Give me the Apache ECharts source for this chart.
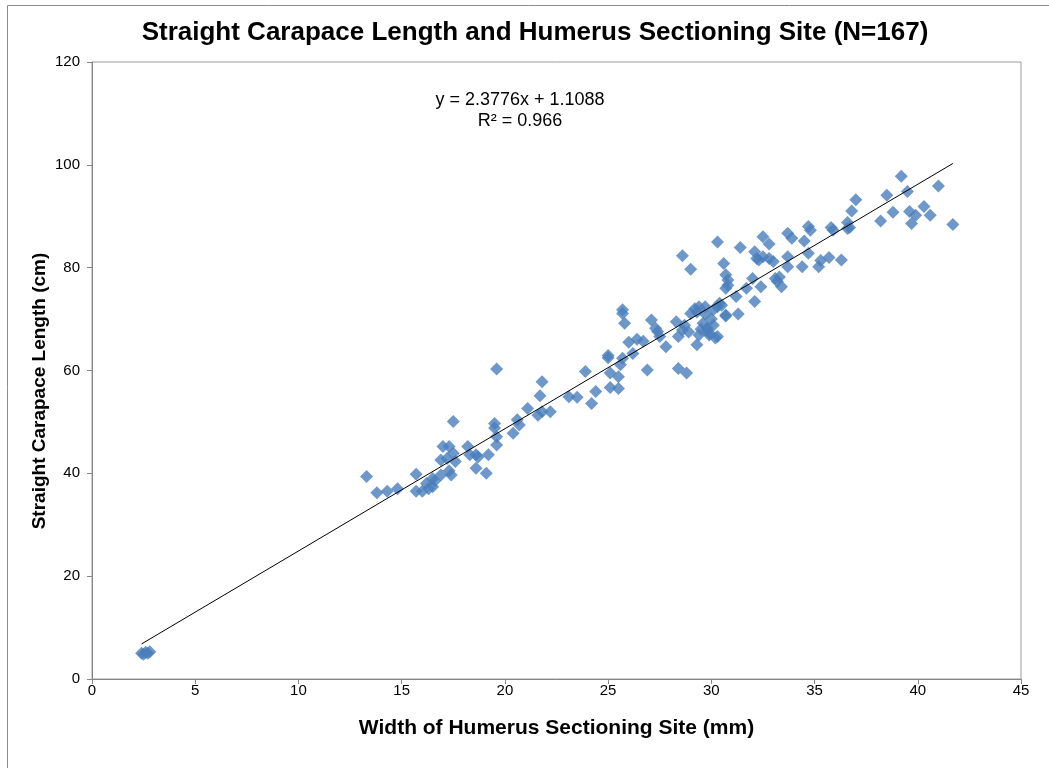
<!DOCTYPE html>
<html>
<head>
<meta charset="utf-8">
<script src="https://cdn.jsdelivr.net/npm/echarts@6/dist/echarts.min.js"></script>
<style>
html,body{margin:0;padding:0;background:#fff;}
#chart{width:1049px;height:768px;}
</style>
</head>
<body>
<div id="chart"></div>
<script>
const titleText = "Straight Carapace Length and Humerus Sectioning Site (N=167)";
const xAxisName = "Width of Humerus Sectioning Site (mm)";
const yAxisName = "Straight Carapace Length (cm)";
const equationLines = ["y = 2.3776x + 1.1088", "R\u00B2 = 0.966"];

// hatchling cluster
const pointsSmall = [[2.4,5.0],[2.5,4.8],[2.6,5.2],[2.7,5.0],[2.8,5.3]];
// 13-25 mm
const pointsLow = [
 [13.3,39.4],[13.8,36.2],[14.3,36.5],[14.8,37.0],[15.7,39.8],[15.7,36.5],[16.0,36.5],[16.2,38.0],
 [16.3,37.0],[16.5,37.4],[16.5,39.0],[16.9,39.7],[16.9,42.6],[17.0,45.2],[17.2,42.9],[17.3,45.2],
 [17.4,39.7],[17.5,50.1],[17.5,43.9],[17.6,42.3],[17.3,40.5],[16.6,38.5],[18.2,45.2],[18.3,43.6],
 [18.6,43.6],[18.7,43.2],[18.6,41.0],[19.1,40.0],[19.2,43.6],[19.6,60.3],[19.5,49.7],[19.5,48.8],
 [19.6,45.5],[19.6,47.1],[20.4,47.8],[20.6,50.4],[20.7,49.4],[21.1,52.6],[21.6,51.3],[21.7,55.1],
 [21.8,57.8],[21.8,52.0],[22.2,52.0],[23.1,54.9],[23.5,54.8],[23.9,59.8],[24.2,53.6],[24.4,55.9]
];
// 25-31 mm
const pointsMid = [
 [25.0,62.9],[25.0,62.5],[25.1,59.5],[25.1,56.7],[25.5,56.5],[25.5,58.8],[25.6,61.1],[25.7,62.4],
 [25.7,71.8],[25.7,71.1],[25.8,69.2],[26.0,65.5],[26.2,63.3],[26.4,66.1],[26.7,65.7],[26.9,60.1],
 [27.1,69.8],[27.3,68.2],[27.4,67.6],[27.5,66.6],[27.8,64.6],[28.3,69.5],[28.4,66.6],[28.4,60.4],
 [28.8,59.5],[28.6,82.3],[29.0,79.7],[28.6,67.9],[28.9,67.5],[29.0,71.1],[29.3,71.4],[29.4,72.4],
 [29.4,66.9],[29.3,65.0],[29.6,69.2],[29.8,68.2],[30.0,70.0],[30.1,71.8],[30.3,66.6],[30.3,72.4],
 [30.4,73.1],[30.7,70.6],[30.3,85.0],[30.6,80.8],[30.7,78.6],[30.8,77.6],[30.8,76.6],[30.7,76.0],
 [29.7,71.0],[29.9,67.3],[30.1,68.8],[29.5,68.0],[28.7,68.8],[29.2,72.0],[29.7,72.4],[30.5,72.7],
 [31.3,71.0],[29.8,67.9],[29.9,66.9],[30.2,66.3],[30.7,70.8]
];
// 31-42 mm
const pointsHigh = [
 [31.4,83.9],[31.2,74.4],[31.7,76.0],[32.0,77.9],[32.1,73.4],[32.1,83.1],[32.2,81.8],[32.3,81.5],
 [32.5,86.0],[32.8,84.6],[32.4,76.3],[32.5,82.1],[32.8,81.8],[33.0,81.2],[33.1,77.9],[33.2,77.3],
 [33.4,76.3],[33.3,78.2],[33.7,86.7],[33.9,85.7],[33.7,82.1],[33.7,80.2],[34.4,80.2],[34.5,85.2],
 [34.7,88.0],[34.8,87.3],[34.7,82.8],[35.2,80.2],[35.3,81.4],[35.7,82.0],[35.8,87.8],[35.9,87.3],
 [36.3,81.5],[36.6,88.8],[36.7,87.8],[36.8,91.0],[37.0,93.2],[38.2,89.1],[38.5,94.1],[36.6,87.6],
 [39.2,97.8],[39.5,94.8],[41.0,95.9],[38.8,90.8],[39.6,90.9],[39.9,90.2],[39.7,88.6],[40.3,91.9],
 [40.6,90.2],[41.7,88.4]
];
// trendline endpoints (from the printed equation, at x = 2.4 and 41.7)
const trendLine = [[2.4,6.82],[41.7,100.26]];

const xTicks = {min:0, max:45, interval:5};
const yTicks = {min:0, max:120, interval:20};

const allPoints = pointsSmall.concat(pointsLow, pointsMid, pointsHigh);

const chart = echarts.init(document.getElementById('chart'), null, {renderer:'canvas'});
const axisGray = '#868686';
const fontFam = '"Liberation Sans", Arial, sans-serif';
chart.setOption({
  backgroundColor:'#ffffff',
  animation:false,
  grid:{left:92, right:28, top:62, bottom:89, show:true, borderColor:'#9a9a9a', borderWidth:1, backgroundColor:'#fff'},
  xAxis:{
    type:'value', min:xTicks.min, max:xTicks.max, interval:xTicks.interval,
    name:xAxisName, nameLocation:'middle', nameGap:39,
    nameTextStyle:{fontFamily:fontFam, fontSize:21, fontWeight:'bold', color:'#000'},
    axisLine:{show:true, onZero:false, lineStyle:{color:axisGray, width:1}},
    axisTick:{show:true, inside:false, length:5, lineStyle:{color:axisGray}},
    axisLabel:{fontFamily:fontFam, fontSize:15, color:'#000', margin:4},
    splitLine:{show:false}
  },
  yAxis:{
    type:'value', min:yTicks.min, max:yTicks.max, interval:yTicks.interval,
    axisLine:{show:true, onZero:false, lineStyle:{color:axisGray, width:1}},
    axisTick:{show:true, inside:false, length:5, lineStyle:{color:axisGray}},
    axisLabel:{fontFamily:fontFam, fontSize:15, color:'#000', margin:12},
    splitLine:{show:false}
  },
  series:[
    {
      type:'scatter', data:allPoints, symbol:'diamond', symbolSize:13,
      itemStyle:{color:'#4A7EBB'}, z:2
    },
    {
      type:'line', data:trendLine, symbol:'none',
      lineStyle:{color:'#000', width:1}, z:3
    }
  ],
  graphic:[
    {type:'rect', shape:{x:7.5, y:5.5, width:1100, height:800}, style:{fill:'none', stroke:'#8c8c8c', lineWidth:1}, silent:true},
    {type:'text', x:535, y:33, style:{text:titleText, font:'bold 26px '+fontFam, fill:'#000', textAlign:'center', textVerticalAlign:'middle'}},
    {type:'text', x:40, y:391, rotation:Math.PI/2, style:{text:yAxisName, font:'bold 19px '+fontFam, fill:'#000', textAlign:'center', textVerticalAlign:'middle'}},
    {type:'text', x:520, y:100, style:{text:equationLines[0], font:'18px '+fontFam, fill:'#000', textAlign:'center', textVerticalAlign:'middle'}},
    {type:'text', x:520, y:121, style:{text:equationLines[1], font:'18px '+fontFam, fill:'#000', textAlign:'center', textVerticalAlign:'middle'}}
  ]
});
</script>
</body>
</html>
